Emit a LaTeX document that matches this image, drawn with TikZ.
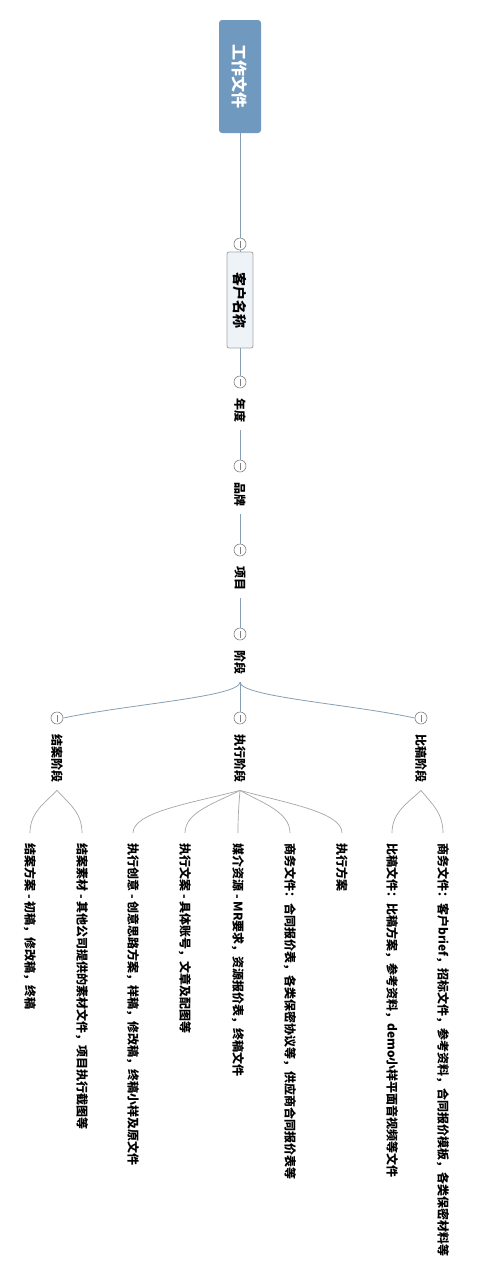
\documentclass[tikz,border=0pt]{standalone}
\usepackage{fontspec}
\setmainfont{Noto Sans CJK SC}
\usepackage{xcolor}
\definecolor{rootblue}{HTML}{7099BF}
\definecolor{boxfill}{HTML}{EEF3F8}
\definecolor{linkblue}{HTML}{869FB4}
\def\leaftop{833}

\begin{document}
\begin{tikzpicture}[
	x=1pt,y=-1pt,draw=linkblue,line width=0.8pt]
	\tikzstyle{root}=[rectangle,rounded corners=3pt,fill=rootblue,text=white,minimum width=113pt,minimum height=42pt,font=\fontsize{16}{16}\selectfont\bfseries,rotate=-90]
	\tikzstyle{client}=[rectangle,rounded corners=2pt,draw=gray!70,fill=boxfill,minimum width=96pt,minimum height=26pt,font=\fontsize{14}{14}\selectfont\bfseries,rotate=-90]
	\tikzstyle{topic}=[inner xsep=8pt,inner ysep=2pt,font=\fontsize{12}{12}\selectfont\bfseries,rotate=-90]
	\tikzstyle{leaf}=[topic,inner xsep=10pt,anchor=west]
	\tikzstyle{fold}=[circle,draw=gray,line width=0.6pt,fill=white,minimum size=12pt,inner sep=0pt,
		path picture={\draw[gray,line width=0.6pt] ([yshift=-2.5pt]path picture bounding box.north) -- ([yshift=2.5pt]path picture bounding box.south);}]
	\tikzstyle{twig}=[draw=gray!70,line width=0.7pt]
	
	\fill[white] (0,0) rectangle (479,1283);
	\useasboundingbox (0,0) rectangle (479,1283);
	
	% Draw root and client nodes
	\node[root] (root) at (240,76.5) {工作文件};
	\node[fold] (F-kh) at (240,244) {};
	\node[client] (kehu) at (240,300) {客户名称};
	\path (root.east) edge (F-kh.north);
	\path (F-kh.south) edge (kehu.west);
	
	% Draw chain nodes
	\foreach \name / \y in {nd/410,pp/494,xm/578,jd/662}
	\node[fold] (F-\name) at (240,\y-28) {};
	\node[topic] (nd) at (240,410) {年度};
	\node[topic] (pp) at (240,494) {品牌};
	\node[topic] (xm) at (240,578) {项目};
	\node[topic] (jd) at (240,662) {阶段};
	
	% Connect chain
	\path (kehu.east) edge (F-nd.north);
	\foreach \source / \dest in {nd/pp,pp/xm,xm/jd}
	\path (\source.east) edge (F-\dest.north);
	
	% Draw stage nodes
	\foreach \name / \x / \txt in {ja/57/结案阶段,zx/240/执行阶段,bg/421/比稿阶段}
	{
		\node[fold] (F-\name) at (\x,718) {};
		\node[topic] (\name) at (\x,758) {\txt};
	}
	
	% Connect stages
	\draw (jd.east) .. controls (238,697) and (130,704) .. (F-ja.east);
	\draw (jd.east) -- (F-zx.north);
	\draw (jd.east) .. controls (242,697) and (350,704) .. (F-bg.west);
	
	% Draw leaf nodes and connect them
	\foreach \name / \parent / \px / \x / \txt in {
		ja1/ja/57/30/{结案方案 - 初稿，修改稿，终稿},
		ja2/ja/57/82/{结案素材 - 其他公司提供的素材文件，项目执行截图等},
		zx1/zx/240/133/{执行创意 - 创意思路方案，样稿，修改稿，终稿小样及原文件},
		zx2/zx/240/185/{执行文案 - 具体账号，文章及配图等},
		zx3/zx/240/238/{媒介资源 - MR要求，资源报价表，终稿文件},
		zx4/zx/240/290/{商务文件：合同报价表，各类保密协议等，供应商合同报价表等},
		zx5/zx/240/342/{执行方案},
		bg1/bg/421/392/{比稿文件：比稿方案，参考资料，demo小样平面音视频等文件},
		bg2/bg/421/443/{商务文件：客户brief，招标文件，参考资料，合同报价模板，各类保密材料等}}
	{
		\node[leaf] (\name) at (\x,\leaftop) {\txt};
		\draw[twig] (\parent.east) .. controls (\px*0.55+\x*0.45,803) and (\x,812) .. (\name.west);
	}
\end{tikzpicture}
\end{document}
